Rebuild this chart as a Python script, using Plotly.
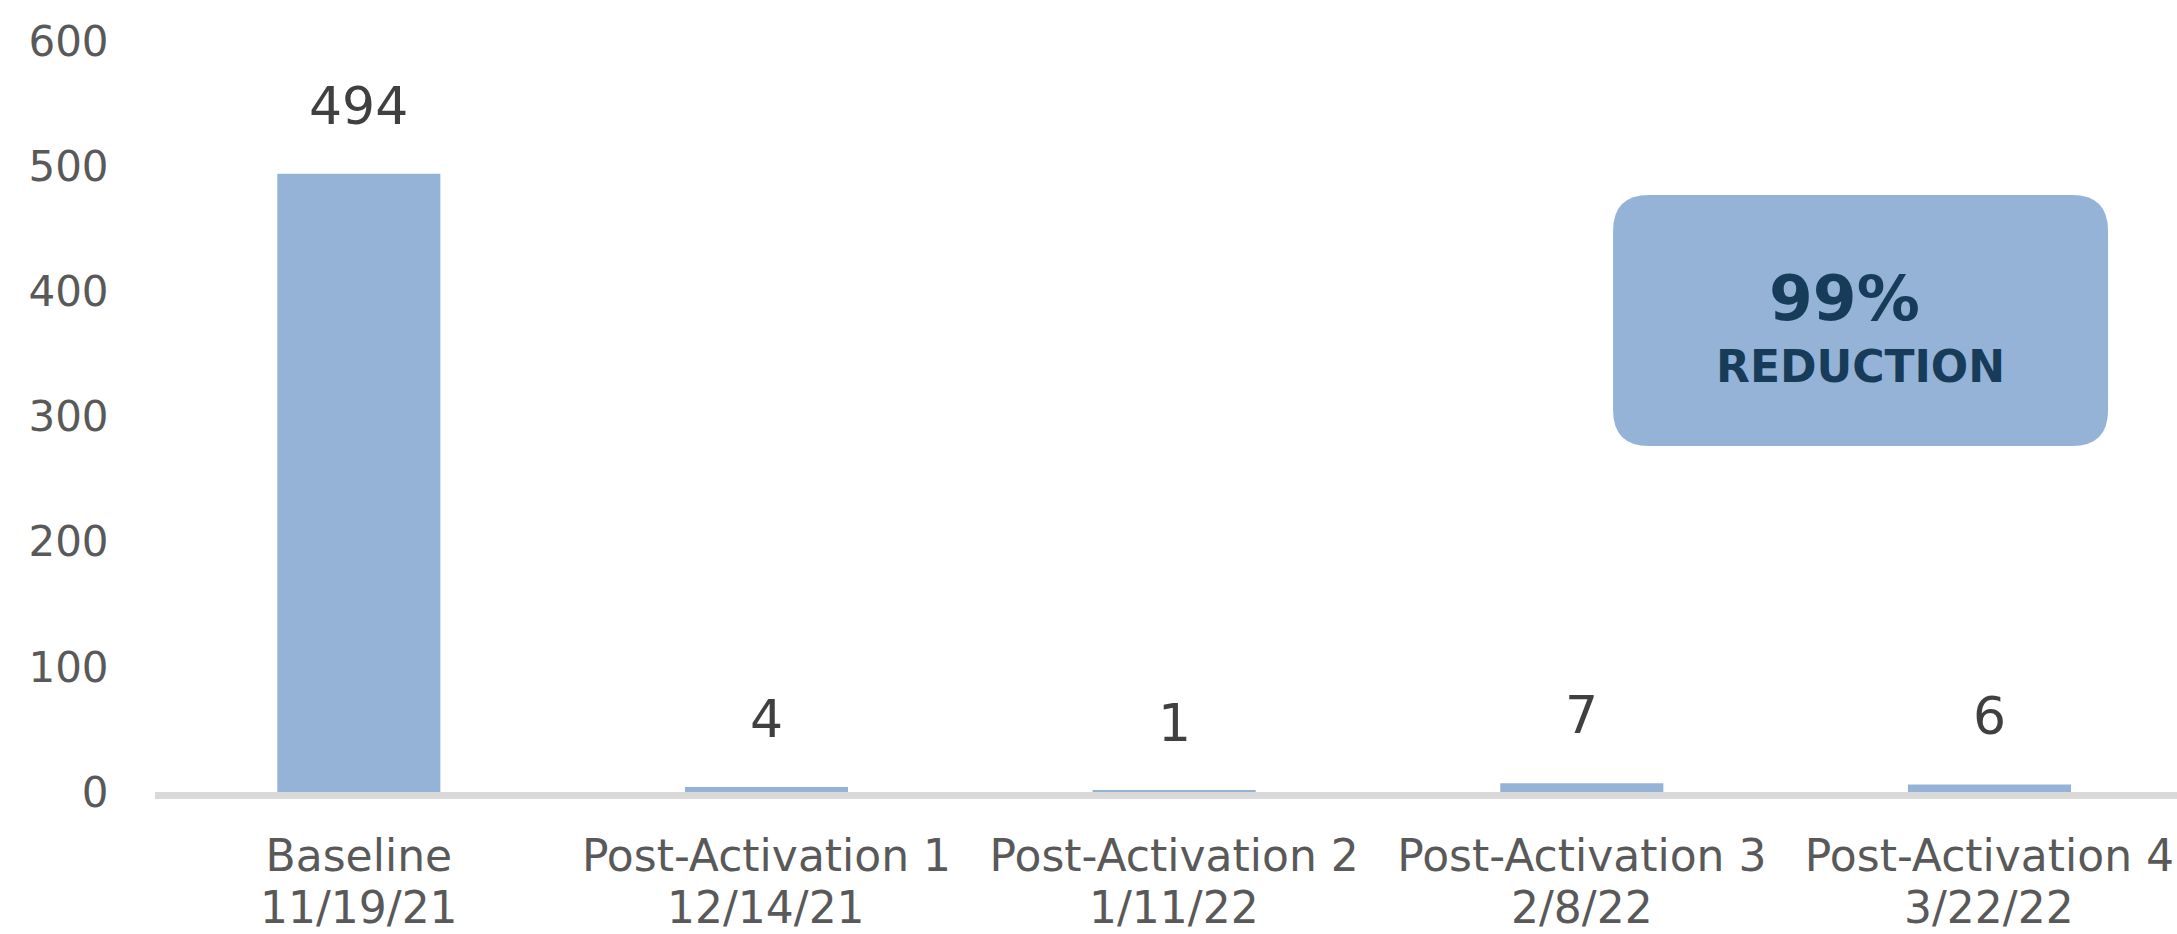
import plotly.graph_objects as go

# data
categories = ["Baseline", "Post-Activation 1", "Post-Activation 2",
              "Post-Activation 3", "Post-Activation 4"]
dates = ["11/19/21", "12/14/21", "1/11/22", "2/8/22", "3/22/22"]
counts = [494, 4, 1, 7, 6]
y_ticks = [0, 100, 200, 300, 400, 500, 600]
callout_big = "99%"
callout_small = "REDUCTION"

BAR_COLOR = "#95b3d7"
TICK_COLOR = "#595959"
LABEL_COLOR = "#404040"
NAVY = "#173c5a"
FONT = "DejaVu Sans"


def rounded_rect_path(w, h, r):
    """Rounded rectangle path in pixels, centred on its anchor."""
    hw, hh = w / 2, h / 2
    return (f"M {-hw + r},{-hh} L {hw - r},{-hh} Q {hw},{-hh} {hw},{-hh + r} "
            f"L {hw},{hh - r} Q {hw},{hh} {hw - r},{hh} "
            f"L {-hw + r},{hh} Q {-hw},{hh} {-hw},{hh - r} "
            f"L {-hw},{-hh + r} Q {-hw},{-hh} {-hw + r},{-hh} Z")


fig = go.Figure()

fig.add_trace(go.Bar(
    x=categories,
    y=counts,
    marker=dict(color=BAR_COLOR, line=dict(width=0)),
    hoverinfo="skip",
))

# value labels above the bars
for cat, val in zip(categories, counts):
    fig.add_annotation(
        x=cat, y=val, xref="x", yref="y",
        text=str(val), showarrow=False,
        yanchor="middle", yshift=68,
        font=dict(family=FONT, size=52, color=LABEL_COLOR),
    )

# second line of the category labels (dates)
for cat, d in zip(categories, dates):
    fig.add_annotation(
        x=cat, y=0, xref="x", yref="y",
        text=d, showarrow=False,
        yanchor="middle", yshift=-115,
        font=dict(family=FONT, size=44, color=TICK_COLOR),
    )

# callout box
fig.add_shape(
    type="path", xref="paper", yref="paper",
    xsizemode="pixel", ysizemode="pixel",
    xanchor=0.8435, yanchor=0.6278,
    path=rounded_rect_path(495, 251, 36),
    fillcolor=BAR_COLOR, line=dict(width=0), layer="above",
)
fig.add_annotation(
    x=0.8356, y=0.6571, xref="paper", yref="paper",
    text=f"<b>{callout_big}</b>", showarrow=False,
    xanchor="center", yanchor="middle",
    font=dict(family=FONT, size=63, color=NAVY),
)
fig.add_annotation(
    x=0.8437, y=0.5666, xref="paper", yref="paper",
    text=f"<b>{callout_small}</b>", showarrow=False,
    xanchor="center", yanchor="middle",
    font=dict(family=FONT, size=44, color=NAVY),
)

fig.update_layout(
    width=2177, height=934,
    margin=dict(l=155, r=0, t=41, b=142),
    paper_bgcolor="white",
    plot_bgcolor="white",
    showlegend=False,
    bargap=0.6,
    font=dict(family=FONT, color=TICK_COLOR),
)

fig.update_xaxes(
    type="category",
    range=[-0.5, 4.46],
    showgrid=False, zeroline=False,
    showline=True, linecolor="#d9d9d9", linewidth=7,
    ticks="outside", ticklen=19, tickcolor="rgba(0,0,0,0)",
    tickfont=dict(family=FONT, size=44, color=TICK_COLOR),
)

fig.update_yaxes(
    range=[0, 600],
    tickvals=y_ticks,
    showgrid=False, zeroline=False, showline=False,
    ticks="outside", ticklen=37, tickcolor="rgba(0,0,0,0)",
    tickfont=dict(family=FONT, size=42, color=TICK_COLOR),
)

# drop the default page margin so the figure sits at the window corner
fig.write_html(
    "out.html",
    config={"displayModeBar": False},
    post_script="document.body.style.margin='0';",
)
